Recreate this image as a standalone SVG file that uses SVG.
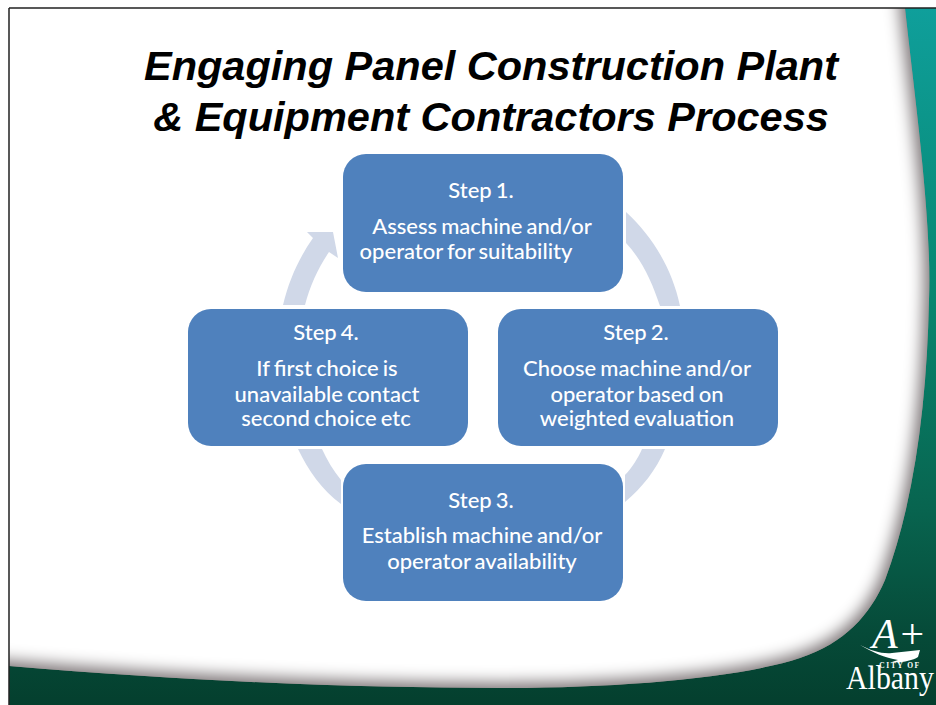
<svg xmlns="http://www.w3.org/2000/svg" width="936" height="705" viewBox="0 0 936 705">
<style>
.step{fill:#4f81bd}
.t{font-family:Lato,"Open Sans","Liberation Sans",sans-serif;font-size:22px;font-weight:500;word-spacing:-1.5px;fill:#fff;text-anchor:middle}
.h{font-family:"Liberation Sans",Arial,sans-serif;font-size:41.5px;font-weight:bold;font-style:italic;fill:#000;text-anchor:middle}
.c{fill:#d0d8e8}
</style>
<defs>
<linearGradient id="bg" gradientUnits="userSpaceOnUse" x1="0" y1="8" x2="0" y2="705"><stop offset="0" stop-color="#0f9f9b"/><stop offset="0.42" stop-color="#07866f"/><stop offset="0.72" stop-color="#08644f"/><stop offset="0.9" stop-color="#064a38"/><stop offset="1" stop-color="#043f2e"/></linearGradient>
<clipPath id="page"><path d="M9 8H905C915 100 932 220 929 300C927 400 915 500 885 580C870 615 845 643 800 658C740 678 620 688 500 688C360 688 200 682 9 666Z"/></clipPath>
<filter id="sh" x="-5%" y="-5%" width="110%" height="110%"><feGaussianBlur stdDeviation="7"/></filter>
</defs>
<rect width="936" height="705" fill="#fff"/>
<rect x="9" y="8" width="927" height="697" fill="url(#bg)"/>
<g clip-path="url(#page)">
<rect width="936" height="705" fill="#8a8284"/>
<path d="M-40 -40H900L905 8C915 100 932 220 929 300C927 400 915 500 885 580C870 615 845 643 800 658C740 678 620 688 500 688C360 688 200 682 9 666L-40 662Z" fill="#fff" stroke="#8a8284" stroke-width="16" filter="url(#sh)"/>
</g>
<path d="M9 8H936M9 8V705" stroke="#222" stroke-width="1.5" fill="none"/>
<g id="title"><text class="h" x="491" y="80">Engaging Panel Construction Plant</text><text class="h" x="491" y="131">&amp; Equipment Contractors Process</text></g>
<g id="connectors">
<path class="c" d="M626 212C652 236 672 268 680 306L660 306C652 282 642 260 626 243Z"/>
<path class="c" d="M665 449C656 470 642 488 625 502L625 475C632 468 638 458 642 449Z"/>
<path class="c" d="M341 504C322 490 308 470 298 449L322 449C327 460 333 470 341 480Z"/>
<path class="c" d="M283 305C289 280 299 258 313 238L307 232L333 232L338 258L329 252C318 268 310 286 305 305Z"/>
</g>
<g id="step1"><rect class="step" x="343" y="154" width="280" height="138" rx="23"/><text class="t" x="481" y="198">Step 1.</text><text class="t" x="482" y="234">Assess machine and/or</text><text class="t" x="466" y="259">operator for suitability</text></g>
<g id="step2"><rect class="step" x="498" y="309" width="280" height="137" rx="23"/><text class="t" x="636" y="340">Step 2.</text><text class="t" x="637" y="376">Choose machine and/or</text><text class="t" x="637" y="402">operator based on</text><text class="t" x="637" y="426">weighted evaluation</text></g>
<g id="step3"><rect class="step" x="343" y="464" width="280" height="137" rx="23"/><text class="t" x="481" y="508">Step 3.</text><text class="t" x="482" y="543">Establish machine and/or</text><text class="t" x="482" y="569">operator availability</text></g>
<g id="step4"><rect class="step" x="188" y="309" width="280" height="137" rx="23"/><text class="t" x="326" y="340">Step 4.</text><text class="t" x="327" y="376">If first choice is</text><text class="t" x="327" y="402">unavailable contact</text><text class="t" x="326" y="426">second choice etc</text></g>
<g id="logo" fill="#fff"><text x="899" y="648" font-family="Liberation Serif,serif" font-style="italic" font-size="42" text-anchor="middle">A+</text><path d="M860 645C872 651 882 654 892 653L920 650L918 657C912 661 900 663 892 662L898 660C885 658 872 652 860 645Z"/><text x="900" y="668" font-family="Liberation Serif,serif" font-weight="bold" font-size="7.5" letter-spacing="1.5" text-anchor="middle">CITY OF</text><text x="846" y="689" font-family="Liberation Serif,serif" font-size="33" textLength="88" lengthAdjust="spacingAndGlyphs">Albany</text></g>
</svg>
